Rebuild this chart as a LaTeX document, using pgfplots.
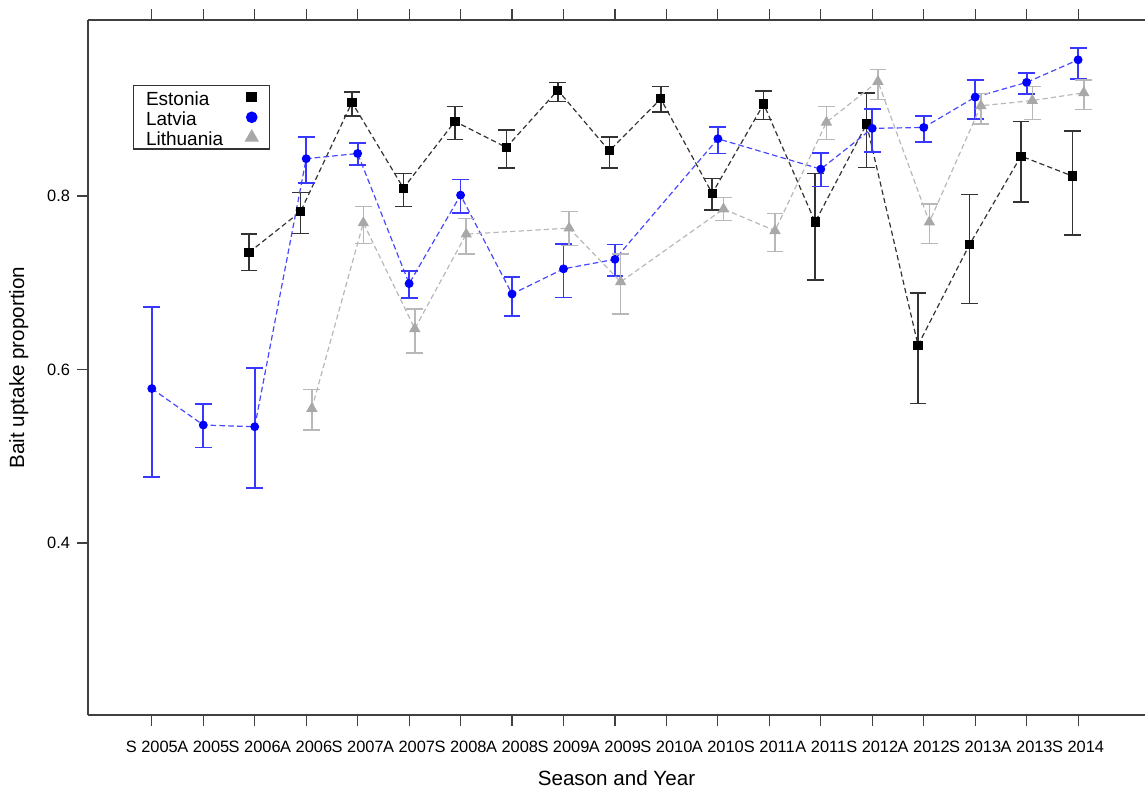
\documentclass[border=0pt]{standalone}
\usepackage{fontspec}
\setmainfont{Liberation Sans}
\usepackage{pgfplots}
\pgfplotsset{compat=1.18}
\usepackage{pgfplotstable}
\definecolor{estline}{HTML}{333333}
\definecolor{latmark}{HTML}{0000FF}
\definecolor{latline}{HTML}{4848FF}
\definecolor{laterr}{HTML}{3838FF}
\definecolor{litmark}{HTML}{A8A8A8}
\definecolor{litline}{HTML}{B8B8B8}

\pgfplotstableread{
x y lo hi
2 0.735 0.714 0.756
3 0.782 0.757 0.804
4 0.908 0.892 0.920
5 0.809 0.788 0.826
6 0.886 0.865 0.903
7 0.856 0.832 0.876
8 0.922 0.909 0.931
9 0.852 0.832 0.868
10 0.912 0.897 0.926
11 0.803 0.784 0.820
12 0.906 0.888 0.921
13 0.770 0.703 0.826
14 0.883 0.833 0.919
15 0.628 0.561 0.688
16 0.744 0.676 0.802
17 0.846 0.793 0.886
18 0.823 0.755 0.875
}\estonia

\pgfplotstableread{
x y lo hi
0 0.578 0.476 0.672
1 0.536 0.510 0.560
2 0.534 0.463 0.602
3 0.843 0.815 0.868
4 0.849 0.836 0.861
5 0.699 0.682 0.714
6 0.801 0.780 0.819
7 0.687 0.662 0.707
8 0.716 0.683 0.745
9 0.727 0.708 0.744
11 0.866 0.849 0.880
13 0.831 0.811 0.850
14 0.878 0.851 0.900
15 0.879 0.862 0.892
16 0.914 0.889 0.934
17 0.931 0.918 0.942
18 0.957 0.935 0.971
}\latvia

\pgfplotstableread{
x y lo hi
3 0.555 0.530 0.577
4 0.769 0.745 0.788
5 0.647 0.619 0.670
6 0.756 0.733 0.774
8 0.763 0.743 0.782
9 0.701 0.664 0.733
11 0.785 0.772 0.798
12 0.760 0.736 0.780
13 0.885 0.865 0.903
14 0.932 0.911 0.946
15 0.770 0.745 0.791
16 0.904 0.883 0.918
17 0.910 0.888 0.926
18 0.919 0.900 0.934
}\lithuania

\begin{document}
\begin{tikzpicture}
\begin{axis}[name=ax, scale only axis, width=528.5pt, height=347.5pt,
 xmin=-1.24, xmax=19.30, ymin=0.2017, ymax=1.0029,
 axis x line*=box, axis y line*=left,
 tick align=outside, major tick length=5.5pt,
 xtick={0,...,18},
 xticklabels={S 2005,A 2005,S 2006,A 2006,S 2007,A 2007,S 2008,A 2008,S 2009,A 2009,S 2010,A 2010,S 2011,A 2011,S 2012,A 2012,S 2013,A 2013,S 2014},
 ytick={0.4,0.6,0.8}, yticklabels={0.4,0.6,0.8},
 ticklabel style={font=\fontsize{8.2}{9}\selectfont},
 xticklabel style={yshift=-4pt},
 tick style={black!75, line width=0.6pt},
 axis line style={black!75, line width=0.6pt},
 xlabel={Season and Year}, ylabel={Bait uptake proportion},
 label style={font=\fontsize{10.3}{12}\selectfont},
 xlabel style={at={(axis description cs:0.5,-0.0906)}, anchor=center},
 ylabel style={at={(axis description cs:-0.0655,0.5)}, anchor=center},
 legend style={at={(axis description cs:0.0426,0.9065)}, anchor=north west, draw=black!80, line width=0.6pt, inner sep=0.7pt, row sep=0pt, font=\fontsize{9.5}{10}\selectfont, nodes={inner xsep=5.5pt, inner ysep=0pt, text height=9.1pt, text depth=1pt}},
 legend cell align=left, legend plot pos=right,
 legend image code/.code={\path (0pt,0pt) (16.5pt,0pt); \draw[#1] plot coordinates {(8.5pt,0pt)};},
]
\addlegendimage{only marks, mark=square*, mark size=2.35pt, black}
\addlegendentry{Estonia}
\addlegendimage{only marks, mark=*, mark size=2.6pt, latmark}
\addlegendentry{Latvia}
\addlegendimage{only marks, mark=triangle*, mark size=3.6pt, litmark}
\addlegendentry{Lithuania}

\addplot[forget plot, estline, line width=0.6pt, dash pattern=on 2.6pt off 1.6pt,
  mark=square*, mark size=2pt, mark options={solid, fill=black, draw=black},
  error bars/.cd, y dir=both, y explicit,
  error bar style={solid, line width=0.75pt, estline},
  error mark options={solid, line width=0.75pt, mark size=4.2pt, estline, rotate=90}]
  table[x expr=\thisrow{x}-0.11, y=y, y error plus expr=\thisrow{hi}-\thisrow{y}, y error minus expr=\thisrow{y}-\thisrow{lo}] {\estonia};

\addplot[forget plot, latline, line width=0.6pt, dash pattern=on 2.8pt off 1.6pt,
  mark=*, mark size=1.9pt, mark options={solid, fill=latmark, draw=latmark},
  error bars/.cd, y dir=both, y explicit,
  error bar style={solid, line width=0.9pt, laterr},
  error mark options={solid, line width=0.9pt, mark size=4.2pt, laterr, rotate=90}]
  table[x=x, y=y, y error plus expr=\thisrow{hi}-\thisrow{y}, y error minus expr=\thisrow{y}-\thisrow{lo}] {\latvia};

\addplot[forget plot, litline, line width=0.6pt, dash pattern=on 2.6pt off 1.6pt,
  mark=triangle*, mark size=2.7pt, mark options={solid, fill=litmark, draw=litmark},
  error bars/.cd, y dir=both, y explicit,
  error bar style={solid, line width=0.75pt, litline},
  error mark options={solid, line width=0.75pt, mark size=4.2pt, litline, rotate=90}]
  table[x expr=\thisrow{x}+0.11, y=y, y error plus expr=\thisrow{hi}-\thisrow{y}, y error minus expr=\thisrow{y}-\thisrow{lo}] {\lithuania};
\end{axis}
\pgfresetboundingbox
\path[use as bounding box] ([xshift=-44pt,yshift=-37.5pt]ax.south west) rectangle ([yshift=10pt]ax.north east);
\end{tikzpicture}
\end{document}
